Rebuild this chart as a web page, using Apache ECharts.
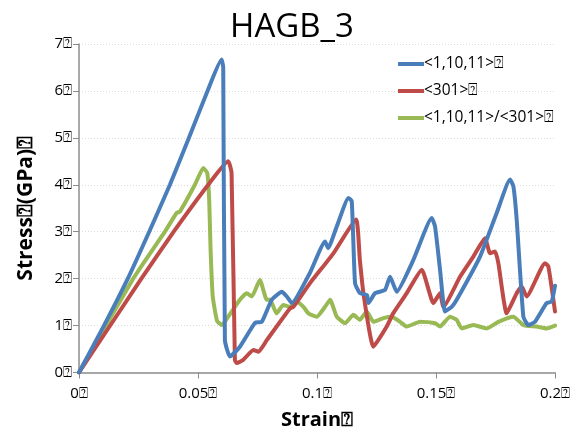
<!DOCTYPE html>
<html>
<head>
<meta charset="utf-8">
<script src="https://cdn.jsdelivr.net/npm/echarts@6/dist/echarts.min.js"></script>
<style>
  html, body { margin: 0; padding: 0; background: #fff; }
  #main { width: 586px; height: 440px; }
</style>
</head>
<body>
<div id="main"></div>
<script>
// missing-glyph box that trails every label in the original
const BOX = "\u2370";

const seriesNames = ["<1,10,11>" + BOX, "<301>" + BOX, "<1,10,11>/<301>" + BOX];

// <1,10,11>
const blueStrain = [0, 0.0105, 0.0205, 0.0295, 0.0382, 0.0462, 0.054, 0.0599, 0.0606, 0.0613, 0.0634, 0.0676, 0.074, 0.0768, 0.081, 0.0852, 0.0873, 0.0894, 0.097, 0.1034, 0.1047, 0.1083, 0.1132, 0.1146, 0.116, 0.118, 0.121, 0.1216, 0.1244, 0.1286, 0.1307, 0.1335, 0.1405, 0.1482, 0.1496, 0.1517, 0.1538, 0.1566, 0.1587, 0.1685, 0.1755, 0.1811, 0.1825, 0.1839, 0.1867, 0.1888, 0.1916, 0.1965, 0.1986, 0.2];
const blueStress = [0, 1.0, 2.0, 3.0, 4.0, 5.0, 6.0, 6.67, 6.5, 0.69, 0.34, 0.55, 1.06, 1.08, 1.55, 1.72, 1.62, 1.48, 2.12, 2.79, 2.65, 3.11, 3.72, 3.65, 1.9, 1.69, 1.65, 1.48, 1.69, 1.76, 2.04, 1.72, 2.4, 3.29, 3.11, 2.19, 1.3, 1.4, 1.55, 2.47, 3.4, 4.11, 3.97, 3.26, 1.19, 1.01, 1.08, 1.48, 1.51, 1.85];

// <301>
const redStrain = [0, 0.0262, 0.0398, 0.0543, 0.0627, 0.0641, 0.0655, 0.0663, 0.069, 0.0733, 0.0754, 0.0789, 0.0887, 0.0901, 0.097, 0.1069, 0.1164, 0.118, 0.1195, 0.1237, 0.1293, 0.132, 0.1377, 0.144, 0.1489, 0.1517, 0.1531, 0.1601, 0.1657, 0.1706, 0.1727, 0.1748, 0.1762, 0.1797, 0.1839, 0.186, 0.1881, 0.1958, 0.1972, 0.2];
const redStress = [0, 2.0, 3.0, 4.0, 4.5, 4.25, 0.27, 0.2, 0.27, 0.48, 0.44, 0.69, 1.37, 1.4, 1.9, 2.54, 3.26, 2.4, 1.69, 0.55, 0.98, 1.26, 1.69, 2.19, 1.48, 1.69, 1.4, 2.04, 2.47, 2.86, 2.54, 2.58, 2.33, 1.26, 1.69, 1.83, 1.62, 2.33, 2.26, 1.3];

// <1,10,11>/<301>
const greenStrain = [0, 0.0228, 0.0361, 0.041, 0.0424, 0.0487, 0.0522, 0.0539, 0.0547, 0.0553, 0.0562, 0.058, 0.06, 0.0627, 0.0676, 0.0705, 0.0726, 0.076, 0.0789, 0.0803, 0.083, 0.0858, 0.0887, 0.0915, 0.0943, 0.0964, 0.0999, 0.1034, 0.1055, 0.1083, 0.1118, 0.1153, 0.118, 0.1209, 0.1237, 0.1279, 0.1314, 0.1349, 0.1377, 0.1433, 0.1496, 0.1517, 0.1559, 0.1587, 0.1608, 0.1657, 0.1713, 0.1762, 0.1825, 0.1867, 0.1923, 0.1965, 0.2];
const greenStress = [0, 2.0, 3.0, 3.4, 3.43, 4.0, 4.36, 4.25, 3.68, 2.6, 1.62, 1.1, 1.01, 1.19, 1.55, 1.69, 1.62, 1.97, 1.55, 1.55, 1.26, 1.44, 1.4, 1.51, 1.4, 1.26, 1.19, 1.4, 1.55, 1.19, 1.05, 1.23, 1.12, 1.3, 1.08, 1.16, 1.19, 1.08, 0.98, 1.08, 1.05, 0.98, 1.19, 1.12, 0.94, 1.01, 0.94, 1.08, 1.19, 1.01, 0.98, 0.94, 1.0];

const xTicks = [0, 0.05, 0.1, 0.15, 0.2];
const yTicks = [0, 1, 2, 3, 4, 5, 6, 7];

const colors = ["#4a7ebb", "#be4b48", "#98b954"];

function pairs(xs, ys) {
  return xs.map((x, i) => [x, ys[i]]);
}

const font = "'Open Sans', 'Noto Sans', sans-serif";

let myChart = echarts.init(document.getElementById("main"));
myChart.setOption({
  animation: false,
  color: colors,
  title: {
    text: "HAGB_3",
    left: 287,
    top: 6,
    textAlign: "center",
    textStyle: { fontFamily: font, fontSize: 33, fontWeight: "normal", color: "#000" },
  },
  legend: {
    orient: "vertical",
    left: 393,
    top: 51,
    itemGap: 11,
    itemWidth: 26,
    itemHeight: 4,
    icon: "rect",
    textStyle: { fontFamily: font, fontSize: 15.5, color: "#000", padding: [0, 0, 0, -5] },
    data: seriesNames,
  },
  grid: { left: 79, right: 31, top: 44, bottom: 67.5 },
  xAxis: {
    type: "value",
    min: 0,
    max: 0.2,
    interval: 0.05,
    name: "Strain" + BOX,
    nameLocation: "middle",
    nameGap: 38,
    nameTextStyle: { fontFamily: font, fontSize: 20, fontWeight: "bold", color: "#000" },
    axisLine: { lineStyle: { color: "#8c8c8c", width: 1.5 } },
    axisTick: { show: true, inside: false, length: 6, lineStyle: { color: "#8c8c8c" } },
    axisLabel: {
      fontFamily: font, fontSize: 15, color: "#000", margin: 14,
      formatter: (v) => (xTicks.includes(+v.toFixed(2)) ? String(+v.toFixed(2)) + BOX : ""),
    },
    splitLine: { show: false },
  },
  yAxis: {
    type: "value",
    min: 0,
    max: 7,
    interval: 1,
    name: "Stress" + BOX + "(GPa)" + BOX,
    nameLocation: "middle",
    nameGap: 42,
    nameTextStyle: { fontFamily: font, fontSize: 21, fontWeight: "bold", color: "#000" },
    axisLine: { show: true, lineStyle: { color: "#8c8c8c", width: 1.5 } },
    axisTick: { show: true, inside: false, length: 6, lineStyle: { color: "#8c8c8c" } },
    axisLabel: {
      fontFamily: font, fontSize: 15, color: "#000", margin: 7,
      formatter: (v) => (yTicks.includes(v) ? v + BOX : ""),
    },
    splitLine: { show: true, lineStyle: { color: "#dcdcdc", type: [1, 2], width: 1 } },
  },
  series: [
    { name: seriesNames[0], data: pairs(blueStrain, blueStress) },
    { name: seriesNames[1], data: pairs(redStrain, redStress) },
    { name: seriesNames[2], data: pairs(greenStrain, greenStress) },
  ].map((s, i) => ({
    ...s,
    type: "line",
    showSymbol: false,
    symbol: "none",
    smooth: 0.15,
    z: 3 - i,
    lineStyle: { width: 4, color: colors[i], join: "round", cap: "round" },
  })),
});
</script>
</body>
</html>
